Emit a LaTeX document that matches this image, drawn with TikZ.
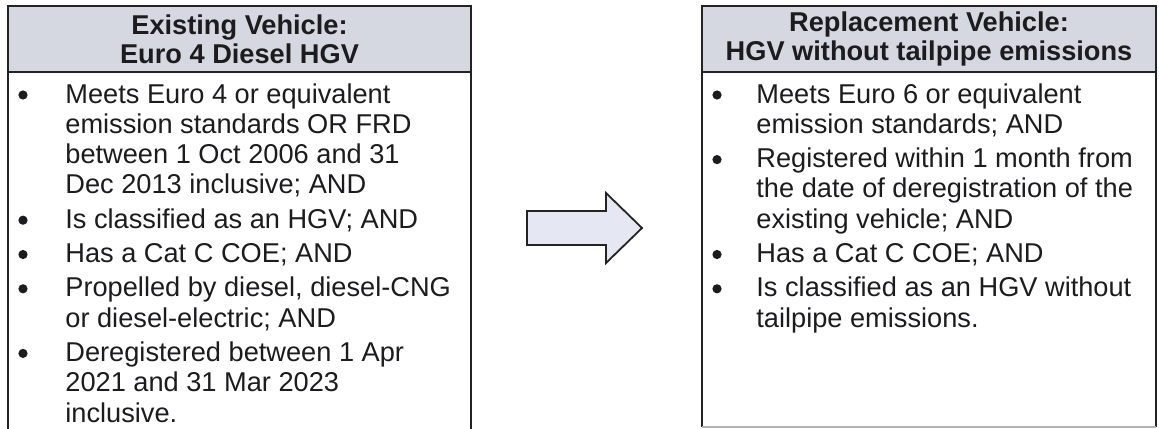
\documentclass[tikz,border=0pt]{standalone}
\usepackage{fontspec}
\setmainfont{Liberation Sans}
\definecolor{headgray}{RGB}{214,216,225}
\definecolor{arrowfill}{RGB}{229,231,243}
\definecolor{ink}{RGB}{28,28,30}
\definecolor{edge}{RGB}{35,35,38}
\begin{document}
\begin{tikzpicture}[x=0.5pt,y=-0.5pt,
  boxline/.style={draw=edge, line width=0.9pt},
  headbox/.style={boxline, fill=headgray, minimum width=231.5pt, minimum height=33pt, inner sep=0pt,
     align=center, font=\fontsize{13.6}{14.6}\selectfont\bfseries, text=ink},
  bodytext/.style={anchor=base west, inner sep=0pt, font=\fontsize{13.6}{15}\selectfont, text=ink},
  bul/.style={circle, fill=ink, inner sep=0pt, minimum size=4.6pt}]
\fill[white] (0,0) rectangle (1159,428);
\useasboundingbox (0,0) rectangle (1159,428);

% left box
\draw[boxline] (8,440) -- (8,72) -- (471,72) -- (471,440);
\node[headbox, minimum width=231.5pt] (lhead) at (239.5,39) {Existing Vehicle:\\Euro 4 Diesel HGV};

% right box
\draw[boxline] (702,427) -- (702,72) -- (1156,72) -- (1156,427);
\draw[edge!35, line width=0.6pt] (702,427) -- (1156,427);
\node[headbox, minimum width=227pt] (rhead) at (929,39) {Replacement Vehicle:\\HGV without tailpipe emissions};

% arrow
\draw[edge, line width=0.9pt, fill=arrowfill, line join=miter]
  (527,211) -- (606,211) -- (606,193) -- (642,228) -- (606,263) -- (606,245) -- (527,245) -- cycle;

% left text
\node[bul] (lb1) at (23,95) {};
\node[bodytext] (l1) at (65,103) {Meets Euro 4 or equivalent};
\node[bodytext] (l2) at (65,133.3) {emission standards OR FRD};
\node[bodytext] (l3) at (65,163.6) {between 1 Oct 2006 and 31};
\node[bodytext] (l4) at (65,193.9) {Dec 2013 inclusive; AND};
\node[bul] (lb2) at (23,220.2) {};
\node[bodytext] (l5) at (65,228.2) {Is classified as an HGV; AND};
\node[bul] (lb3) at (23,254.5) {};
\node[bodytext] (l6) at (65,262.5) {Has a Cat C COE; AND};
\node[bul] (lb4) at (23,288.8) {};
\node[bodytext] (l7) at (65,296.8) {Propelled by diesel, diesel-CNG};
\node[bodytext] (l8) at (65,327.1) {or diesel-electric; AND};
\node[bul] (lb5) at (23,353.4) {};
\node[bodytext] (l9) at (65,361.4) {Deregistered between 1 Apr};
\node[bodytext] (l10) at (65,391.7) {2021 and 31 Mar 2023};
\node[bodytext] (l11) at (65,422) {inclusive.};

% right text
\node[bul] (rb1) at (717,95) {};
\node[bodytext] (r1) at (756,103) {Meets Euro 6 or equivalent};
\node[bodytext] (r2) at (756,133.3) {emission standards; AND};
\node[bul] (rb2) at (717,159.6) {};
\node[bodytext] (r3) at (756,167.6) {Registered within 1 month from};
\node[bodytext] (r4) at (756,197.9) {the date of deregistration of the};
\node[bodytext] (r5) at (756,228.2) {existing vehicle; AND};
\node[bul] (rb3) at (717,254.5) {};
\node[bodytext] (r6) at (756,262.5) {Has a Cat C COE; AND};
\node[bul] (rb4) at (717,288.8) {};
\node[bodytext] (r7) at (756,296.8) {Is classified as an HGV without};
\node[bodytext] (r8) at (756,327.1) {tailpipe emissions.};
\end{tikzpicture}
\end{document}
